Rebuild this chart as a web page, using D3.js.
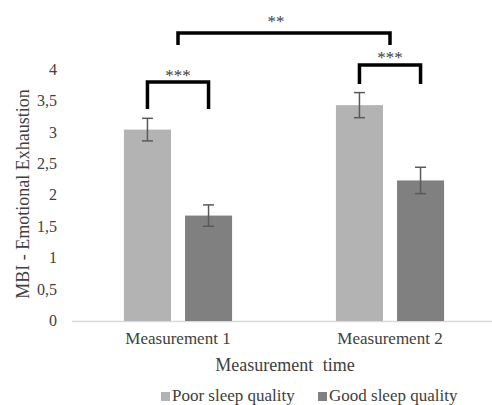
<!DOCTYPE html>
<html>
<head>
<meta charset="utf-8">
<script src="https://d3js.org/d3.v7.min.js"></script>
<style>
  body { margin: 0; background: #fff; }
</style>
</head>
<body>
<div id="chart"></div>
<script>
var svgWidth = 492;
var svgHeight = 405;

// data
var categories = ["Measurement 1", "Measurement 2"];
var seriesNames = ["Poor sleep quality", "Good sleep quality"];
var poorValues = [3.05, 3.44];
var goodValues = [1.68, 2.24];
var poorErrors = [0.18, 0.20];
var goodErrors = [0.17, 0.21];
var yTicks = [0, 0.5, 1, 1.5, 2, 2.5, 3, 3.5, 4];

var colors = ["#b3b3b3", "#808080"];
var serif = "'Liberation Serif', 'DejaVu Serif', serif";
var textColor = "#404040";

var svg = d3.select("#chart")
  .append("svg")
  .attr("width", svgWidth)
  .attr("height", svgHeight)
  .style("font-family", serif);

var x0 = d3.scaleBand()
  .domain(categories)
  .range([72, 496]);

var x1 = d3.scaleBand()
  .domain(seriesNames)
  .range([0, x0.bandwidth()])
  .paddingInner(0.23)
  .paddingOuter(0.85);

var y = d3.scaleLinear()
  .domain([0, 4])
  .range([321, 70]);

var fmt = function(d) { return String(d).replace(".", ","); };

// y tick labels
svg.append("g")
  .selectAll("text")
  .data(yTicks)
  .enter()
  .append("text")
  .attr("x", 57)
  .attr("y", d => y(d))
  .attr("dy", "0.31em")
  .attr("text-anchor", "end")
  .attr("font-family", serif)
  .attr("fill", textColor)
  .style("font-size", "16px")
  .text(fmt);

// baseline
svg.append("line")
  .attr("x1", 72)
  .attr("x2", 496)
  .attr("y1", y(0) + 0.5)
  .attr("y2", y(0) + 0.5)
  .attr("stroke", "#d9d9d9")
  .attr("stroke-width", 1.5);

var rows = categories.map(function(c, i) {
  return [
    { cat: c, s: seriesNames[0], v: poorValues[i], e: poorErrors[i], col: colors[0] },
    { cat: c, s: seriesNames[1], v: goodValues[i], e: goodErrors[i], col: colors[1] }
  ];
});
var flat = rows[0].concat(rows[1]);

var cx = d => x0(d.cat) + x1(d.s) + x1.bandwidth() / 2;

svg.append("g")
  .selectAll("rect")
  .data(flat)
  .enter()
  .append("rect")
  .attr("x", d => x0(d.cat) + x1(d.s))
  .attr("y", d => y(d.v))
  .attr("width", x1.bandwidth())
  .attr("height", d => y(0) - y(d.v))
  .attr("fill", d => d.col);

// error bars
var err = svg.append("g")
  .attr("stroke", "#595959")
  .attr("stroke-width", 1.5);

flat.forEach(function(d) {
  var c = cx(d);
  err.append("line").attr("x1", c).attr("x2", c).attr("y1", y(d.v + d.e)).attr("y2", y(d.v - d.e));
  err.append("line").attr("x1", c - 5.5).attr("x2", c + 5.5).attr("y1", y(d.v + d.e)).attr("y2", y(d.v + d.e));
  err.append("line").attr("x1", c - 5.5).attr("x2", c + 5.5).attr("y1", y(d.v - d.e)).attr("y2", y(d.v - d.e));
});

// significance brackets
function bracket(xa, xb, yTop, yBottom, label, labelY, dx) {
  svg.append("path")
    .attr("d", `M${xa},${yBottom}V${yTop}H${xb}V${yBottom}`)
    .attr("fill", "none")
    .attr("stroke", "#000")
    .attr("stroke-width", 3.5);
  svg.append("text")
    .attr("x", (xa + xb) / 2 + dx)
    .attr("y", labelY)
    .attr("text-anchor", "middle")
    .attr("font-family", serif)
    .attr("fill", textColor)
    .style("font-size", "17px")
    .text(label);
}

bracket(cx(rows[0][0]), cx(rows[0][1]), 82, 109, "***", 81, 0);
bracket(cx(rows[1][0]), cx(rows[1][1]), 65, 84, "***", 63, 0);
bracket(x0(categories[0]) + x0.bandwidth() / 2, x0(categories[1]) + x0.bandwidth() / 2, 33, 45, "**", 27, -8);

// category labels
svg.append("g")
  .selectAll("text")
  .data(categories)
  .enter()
  .append("text")
  .attr("x", d => x0(d) + x0.bandwidth() / 2)
  .attr("y", 344)
  .attr("text-anchor", "middle")
  .attr("font-family", serif)
  .attr("fill", textColor)
  .style("font-size", "17px")
  .text(d => d);

// axis titles
svg.append("text")
  .attr("x", 285)
  .attr("y", 371)
  .attr("text-anchor", "middle")
  .attr("font-family", serif)
  .attr("fill", textColor)
  .style("font-size", "18px")
  .style("word-spacing", "5px")
  .text("Measurement time");

svg.append("text")
  .attr("transform", "rotate(-90)")
  .attr("x", -194)
  .attr("y", 29)
  .attr("text-anchor", "middle")
  .attr("font-family", serif)
  .attr("fill", textColor)
  .style("font-size", "18px")
  .text("MBI - Emotional Exhaustion");

// legend
var legend = svg.append("g");
var legendX = [161, 318];
seriesNames.forEach(function(s, i) {
  legend.append("rect")
    .attr("x", legendX[i])
    .attr("y", 392)
    .attr("width", 9)
    .attr("height", 9)
    .attr("fill", colors[i]);
  legend.append("text")
    .attr("x", legendX[i] + 11)
    .attr("y", 401)
    .attr("font-family", serif)
    .attr("fill", textColor)
    .style("font-size", "17px")
    .text(s);
});
</script>
</body>
</html>
